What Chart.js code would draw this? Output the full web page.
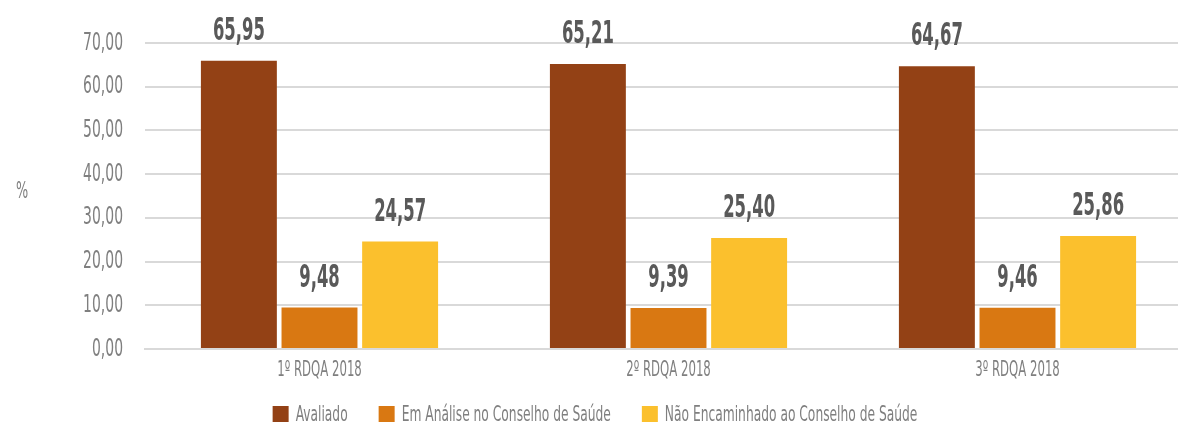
<!DOCTYPE html>
<html>
<head>
    <title>RDQA 2018</title>
    <script src="https://cdn.jsdelivr.net/npm/chart.js"></script>
    <style>
        body {
            margin: 0;
            background: #ffffff;
            overflow: hidden;
        }
        #wrap {
            width: 1200px;
            height: 423px;
        }
    </style>
</head>
<body>
    <div id="wrap"><canvas id="rdqaChart"></canvas></div>

    <script>
        const categories = ['1º RDQA 2018', '2º RDQA 2018', '3º RDQA 2018'];
        const seriesNames = ['Avaliado', 'Em Análise no Conselho de Saúde', 'Não Encaminhado ao Conselho de Saúde'];
        const avaliado = [65.95, 65.21, 64.67];
        const emAnalise = [9.48, 9.39, 9.46];
        const naoEncaminhado = [24.57, 25.40, 25.86];
        const yTicks = [0, 10, 20, 30, 40, 50, 60, 70];
        const seriesColors = ['#934115', '#d97812', '#fbc02d'];

        const FONT = '"DejaVu Sans Condensed", "DejaVu Sans", sans-serif';
        // the original uses a very narrow font, so text is squeezed sideways
        const SQUEEZE = 0.62;
        const SQUEEZE_BOLD = 0.57;

        function fmt(v) {
            return v.toFixed(2).replace('.', ',');
        }

        // draws narrow text: x is the anchor in real pixels
        function narrowText(ctx, text, x, y, align, sx) {
            ctx.save();
            ctx.textAlign = align;
            ctx.translate(x, y);
            ctx.scale(sx, 1);
            ctx.fillText(text, 0, 0);
            ctx.restore();
        }

        // all chart text is drawn here so it can be squeezed
        const textPlugin = {
            id: 'narrowText',
            afterDraw(chart) {
                const ctx = chart.ctx;
                const area = chart.chartArea;
                const xs = chart.scales.x;
                const ys = chart.scales.y;
                ctx.save();
                ctx.textBaseline = 'alphabetic';

                // value labels
                ctx.fillStyle = '#595959';
                ctx.font = 'bold 32px ' + FONT;
                chart.data.datasets.forEach((ds, i) => {
                    chart.getDatasetMeta(i).data.forEach((bar, j) => {
                        narrowText(ctx, fmt(ds.data[j]), bar.x, bar.y - 21, 'center', SQUEEZE_BOLD);
                    });
                });

                // y ticks
                ctx.fillStyle = '#7f7f7f';
                ctx.font = '25px ' + FONT;
                ctx.textBaseline = 'middle';
                yTicks.forEach(v => {
                    narrowText(ctx, fmt(v), area.left - 22, ys.getPixelForValue(v), 'right', SQUEEZE);
                });

                // y title
                ctx.font = '23px ' + FONT;
                narrowText(ctx, '%', 22, (area.top + area.bottom) / 2 - 4, 'center', SQUEEZE);

                // x labels
                ctx.textBaseline = 'alphabetic';
                ctx.font = '21px ' + FONT;
                categories.forEach((c, i) => {
                    narrowText(ctx, c, xs.getPixelForValue(i), area.bottom + 27, 'center', SQUEEZE);
                });

                // legend
                ctx.font = '22px ' + FONT;
                const box = 16, gapText = 7, gapItem = 31;
                const widths = seriesNames.map(n => box + gapText + ctx.measureText(n).width * SQUEEZE);
                const total = widths.reduce((a, b) => a + b, 0) + gapItem * (widths.length - 1);
                let lx = chart.width / 2 - 5 - total / 2;
                const ly = area.bottom + 57;
                seriesNames.forEach((n, i) => {
                    ctx.fillStyle = seriesColors[i];
                    ctx.fillRect(lx, ly, box, box);
                    ctx.fillStyle = '#7f7f7f';
                    narrowText(ctx, n, lx + box + gapText, ly + box - 1, 'left', SQUEEZE);
                    lx += widths[i] + gapItem;
                });

                ctx.restore();
            }
        };

        const ctx = document.getElementById('rdqaChart').getContext('2d');
        new Chart(ctx, {
            type: 'bar',
            data: {
                labels: categories,
                datasets: [
                    { label: seriesNames[0], data: avaliado, backgroundColor: seriesColors[0] },
                    { label: seriesNames[1], data: emAnalise, backgroundColor: seriesColors[1] },
                    { label: seriesNames[2], data: naoEncaminhado, backgroundColor: seriesColors[2] }
                ]
            },
            options: {
                responsive: true,
                maintainAspectRatio: false,
                animation: false,
                categoryPercentage: 0.693,
                barPercentage: 0.942,
                layout: {
                    padding: { top: 43, right: 8, left: 0, bottom: 0 }
                },
                plugins: {
                    tooltip: { enabled: false },
                    legend: { display: false }
                },
                scales: {
                    x: {
                        grid: { display: false },
                        border: { color: '#d9d9d9', width: 2 },
                        ticks: { display: false },
                        afterFit(scale) { scale.height = 74; }
                    },
                    y: {
                        min: 0,
                        max: 70,
                        ticks: { stepSize: 10, display: false },
                        grid: { color: '#d9d9d9', lineWidth: 2, drawTicks: false },
                        border: { display: false },
                        afterFit(scale) { scale.width = 145; }
                    }
                }
            },
            plugins: [textPlugin]
        });
    </script>
</body>
</html>
